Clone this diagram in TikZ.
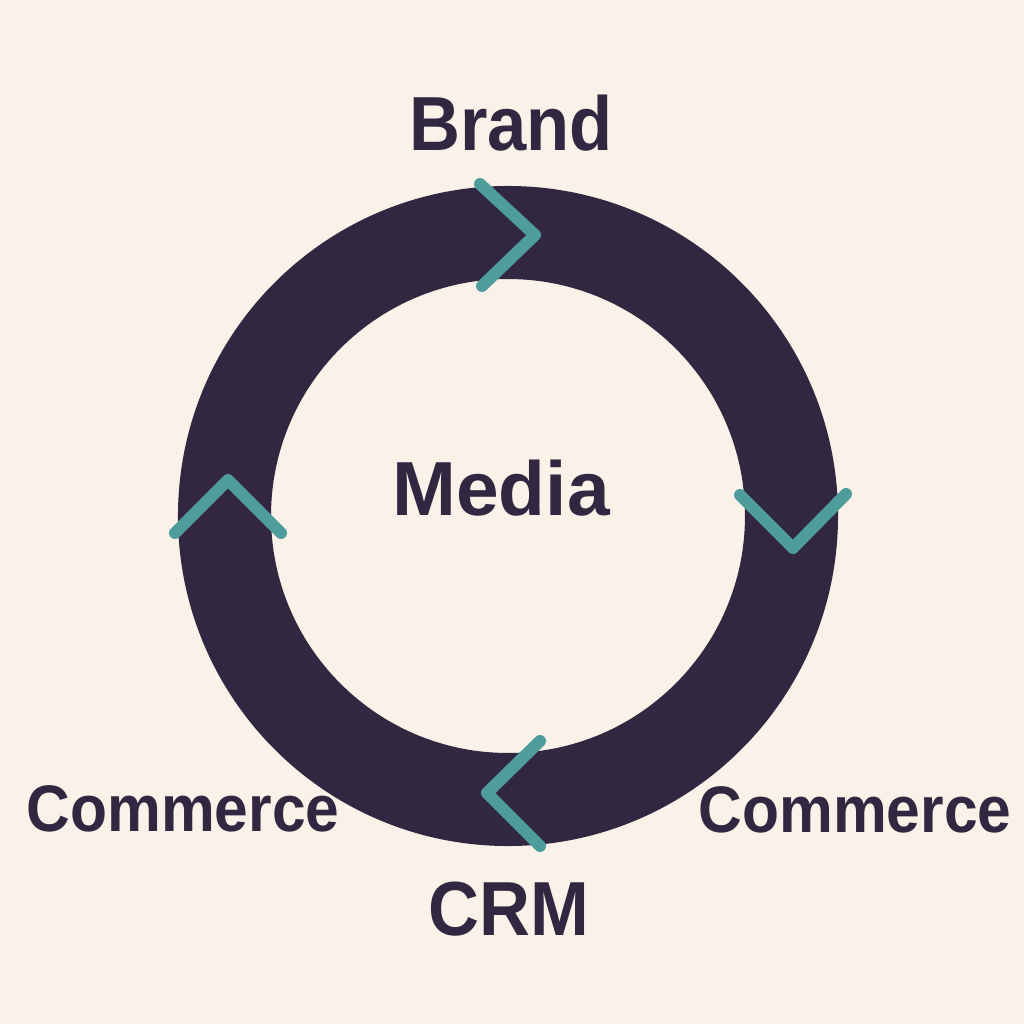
\documentclass[tikz,border=0pt]{standalone}
\usepackage{fontspec}
\setmainfont{Liberation Sans}
\newfontfamily\lblfont[FakeStretch=0.92]{Liberation Sans Bold}
\newfontfamily\hubfont{Liberation Sans Bold}
\usepackage{tikz}
\definecolor{paper}{HTML}{FAF2E8}
\definecolor{ringcol}{HTML}{312741}
\definecolor{chevcol}{HTML}{4E9C9C}
\tikzset{
    ring/.style={ line width=0.93cm, ringcol },
    chevron/.style={ line width=0.12cm, chevcol, line cap=round, line join=round },
    biglabel/.style={ text=ringcol, font=\lblfont\fontsize{21.8}{24}\selectfont, inner sep=0pt },
    hublabel/.style={ text=ringcol, font=\hubfont\fontsize{21.8}{24}\selectfont, inner sep=0pt },
    sidelabel/.style={ text=ringcol, font=\lblfont\fontsize{18.7}{21}\selectfont, inner sep=0pt }
}
\begin{document}
\begin{tikzpicture}[x=0.01cm, y=-0.01cm]
        \fill[paper] (0,0) rectangle (1024,1024);
        \useasboundingbox (0,0) rectangle (1024,1024);

        \coordinate (hub) at (508,516);
        \draw[ring] (hub) circle (283.5);

        % chevrons on the ring
        \draw[chevron] (480,184) -- (535,235) -- (482,286);
        \draw[chevron] (740,495) -- (793,548) -- (846,494);
        \draw[chevron] (540,741) -- (487,793) -- (540,846);
        \draw[chevron] (175,533) -- (228,480) -- (281,533);

        \node[biglabel] (brand) at (511,123) {Brand};
        \node[hublabel] (media) at (501,488) {Media};
        \node[biglabel] (crm) at (509,909) {CRM};
        \node[sidelabel] (commleft) at (183,809) {Commerce};
        \node[sidelabel] (commright) at (855,810) {Commerce};
\end{tikzpicture}
\end{document}
